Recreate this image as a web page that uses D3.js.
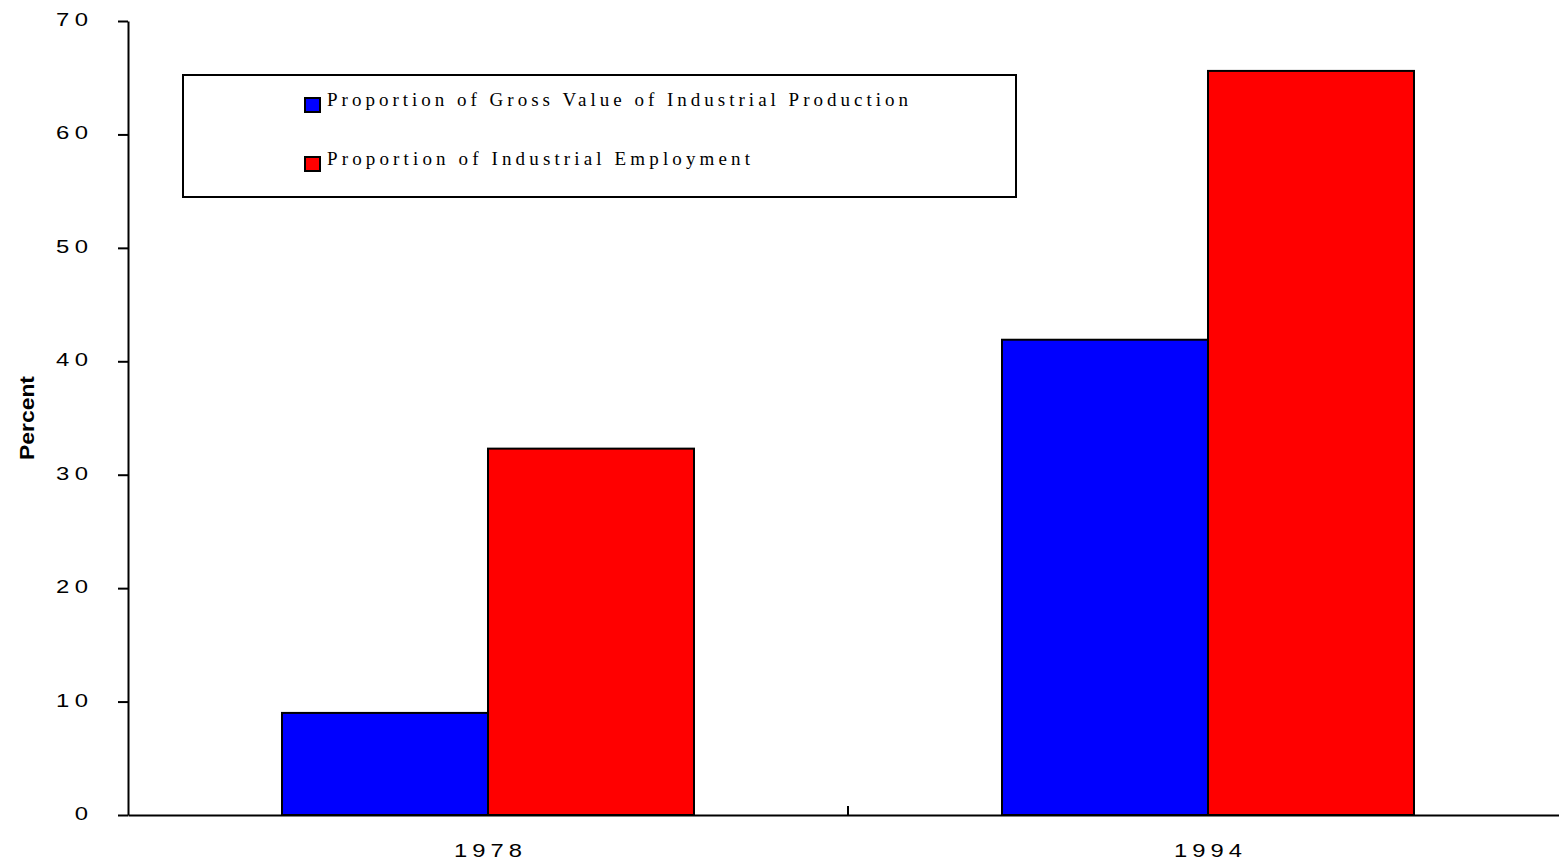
<!DOCTYPE html>
<html>
<head>
<meta charset="utf-8">
<script src="https://cdn.jsdelivr.net/npm/d3@7"></script>
<style>
  html, body { margin: 0; padding: 0; background: #fff; overflow: hidden; }
  svg { display: block; }
</style>
</head>
<body>
<svg id="chart" width="1559" height="862"></svg>
<script>
// Chart data
const years = ["1978", "1994"];
const seriesNames = [
  "Proportion of Gross Value of Industrial Production",
  "Proportion of Industrial Employment"
];
const grossValueShare = [9.0, 41.9];
const employmentShare = [32.3, 65.6];
const seriesColors = ["#0000ff", "#ff0000"];
const yTicks = [0, 10, 20, 30, 40, 50, 60, 70];

const seriesValues = [grossValueShare, employmentShare];

const svg = d3.select("#chart");
const sansFont = "Arial, 'Liberation Sans', sans-serif";

// Scales
const x0 = d3.scaleBand().domain(years).range([128, 1568]).paddingInner(0).paddingOuter(0);
const x1 = d3.scaleBand().domain(d3.range(seriesNames.length))
  .range([0, x0.bandwidth()]).paddingInner(0).paddingOuter(0.7476);
const y = d3.scaleLinear().domain([0, 70]).range([815, 21]);

// Bars
const groups = svg.append("g").selectAll("g")
  .data(years)
  .join("g")
  .attr("transform", d => `translate(${x0(d)},0)`);

groups.selectAll("rect")
  .data((d, i) => seriesValues.map((vals, s) => ({ s, v: vals[i] })))
  .join("rect")
  .attr("x", d => x1(d.s))
  .attr("y", d => y(d.v))
  .attr("width", x1.bandwidth())
  .attr("height", d => y(0) - y(d.v))
  .attr("fill", d => seriesColors[d.s])
  .attr("stroke", "#000")
  .attr("stroke-width", 2);

// Wide, spaced digit labels: glyphs stretched horizontally with extra gaps
function spacedLabel(sel, size, advance, gap, sx, tx, ty) {
  sel.attr("x", 0)
    .attr("y", 0)
    .attr("dy", null)
    .attr("transform", `translate(${tx},${ty}) scale(${sx},1)`)
    .attr("font-family", sansFont)
    .attr("font-size", size)
    .attr("fill", "#000")
    .attr("lengthAdjust", "spacing")
    .attr("textLength", function() {
      const n = this.textContent.length;
      return n * advance + (n - 1) * gap;
    });
}

// Y axis
const yAxis = svg.append("g")
  .attr("transform", `translate(${x0.range()[0]},0)`)
  .call(d3.axisLeft(y).tickValues(yTicks).tickSize(10).tickSizeOuter(0));
yAxis.select(".domain").attr("stroke", "#000").attr("stroke-width", 2);
yAxis.selectAll(".tick line").attr("stroke", "#000").attr("stroke-width", 2);
yAxis.selectAll(".tick text")
  .attr("text-anchor", "end")
  .call(spacedLabel, 17.7, 9.84, 4, 1.35, -40, 4.5);

// X axis: baseline with a boundary tick between the two years
const xAxis = svg.append("g")
  .attr("transform", `translate(0,${y(0)})`)
  .call(d3.axisBottom(x0).tickSize(0).tickSizeOuter(0).tickPadding(0));
xAxis.select(".domain").attr("stroke", "#000").attr("stroke-width", 2);
xAxis.selectAll(".tick text")
  .attr("text-anchor", "middle")
  .call(spacedLabel, 19, 10.57, 4, 1.25, 0, 42);

svg.append("g")
  .selectAll("line")
  .data(years.slice(1))
  .join("line")
  .attr("x1", d => x0(d)).attr("x2", d => x0(d))
  .attr("y1", y(0)).attr("y2", y(0) - 9)
  .attr("stroke", "#000")
  .attr("stroke-width", 2);

// Y axis title
svg.append("text")
  .attr("transform", "translate(34,418) rotate(-90)")
  .attr("text-anchor", "middle")
  .attr("font-family", sansFont)
  .attr("font-weight", "bold")
  .attr("font-size", 21)
  .attr("textLength", 84)
  .attr("lengthAdjust", "spacingAndGlyphs")
  .text("Percent");

// Legend
const legend = svg.append("g");
legend.append("rect")
  .attr("x", 183).attr("y", 75)
  .attr("width", 833).attr("height", 122)
  .attr("fill", "#fff")
  .attr("stroke", "#000")
  .attr("stroke-width", 2);

const legendRowY = [98, 157];
const legendTextLen = [581, 423];
const items = legend.selectAll("g.item")
  .data(seriesNames)
  .join("g")
  .attr("class", "item");

items.append("rect")
  .attr("x", 305)
  .attr("y", (d, i) => legendRowY[i])
  .attr("width", 15).attr("height", 14)
  .attr("fill", (d, i) => seriesColors[i])
  .attr("stroke", "#000")
  .attr("stroke-width", 2);

items.append("text")
  .attr("x", 327)
  .attr("y", (d, i) => legendRowY[i] + 8)
  .attr("font-family", "'Times New Roman', 'Liberation Serif', serif")
  .attr("font-size", 19)
  .attr("textLength", (d, i) => legendTextLen[i])
  .attr("lengthAdjust", "spacing")
  .attr("fill", "#000")
  .text(d => d);
</script>
</body>
</html>
